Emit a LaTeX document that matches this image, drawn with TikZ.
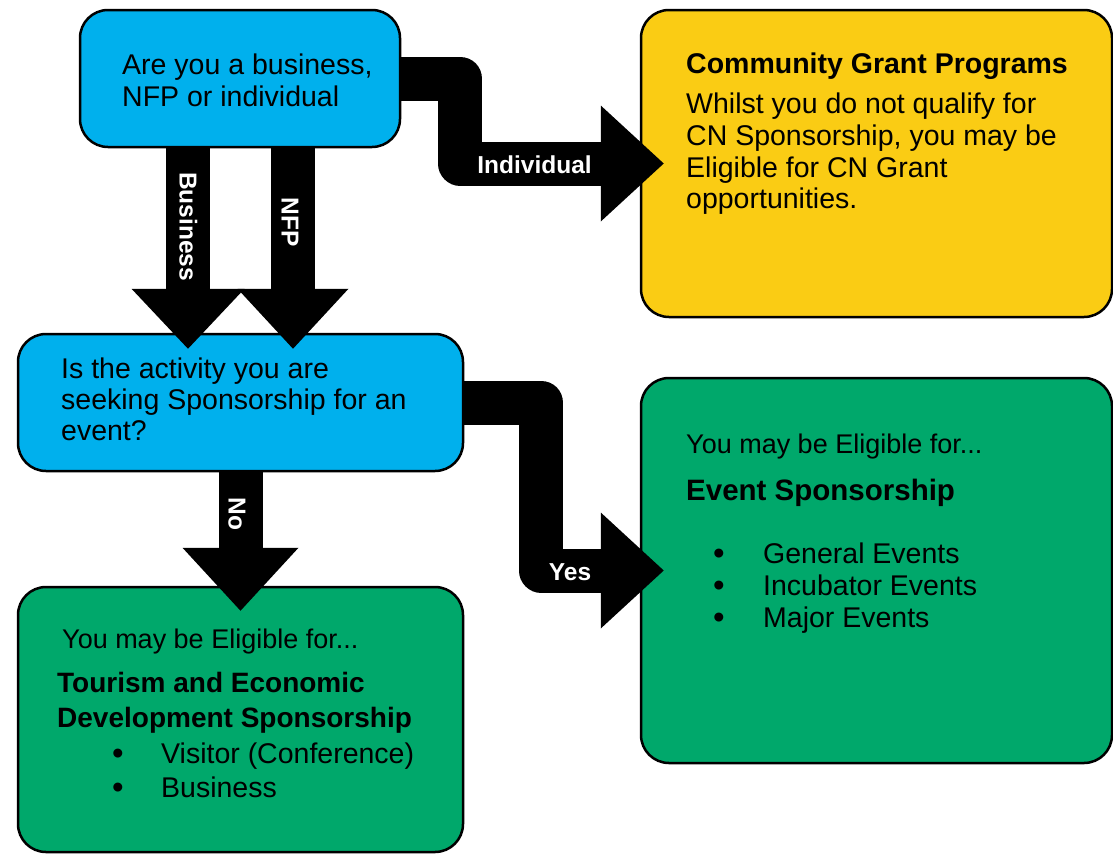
\documentclass[tikz,border=0pt]{standalone}
\usepackage{fontspec}
\setmainfont{Liberation Sans}
\usetikzlibrary{arrows.meta,calc}
\definecolor{qblue}{RGB}{0,176,237}
\definecolor{cgyellow}{RGB}{250,204,20}
\definecolor{okgreen}{RGB}{0,168,107}
\newcommand{\bul}[1]{\makebox[#1][l]{\raisebox{-1pt}{\fontsize{33}{32}\selectfont•}}}
\begin{document}
\begin{tikzpicture}[x=1pt,y=-1pt,
  box/.style={draw=black,line width=2.5pt,rounded corners=28pt,inner sep=0pt},
  txt/.style={anchor=base west,inner sep=0pt,font=\fontsize{28.5}{32}\selectfont},
  btxt/.style={txt,font=\fontsize{28.5}{32}\selectfont\bfseries},
  small/.style={txt,font=\fontsize{27}{32}\selectfont},
  conn/.style={draw=black,line width=44pt,line join=round,
    -{Triangle[width=116pt,length=63pt,line width=0pt]}},
  lbl/.style={text=white,inner sep=0pt,font=\fontsize{24.5}{28}\selectfont\bfseries}]
\useasboundingbox (0,0) rectangle (1113,854);
% boxes
\node[box,fill=qblue,minimum width=320pt,minimum height=137pt] (q1) at (240,78.5) {};
\node[box,fill=cgyellow,minimum width=471pt,minimum height=307pt] (cg) at (876.5,163.5) {};
\node[box,fill=qblue,minimum width=445pt,minimum height=137pt] (q2) at (240.5,402.5) {};
\node[box,fill=okgreen,minimum width=471pt,minimum height=385pt] (ev) at (876.5,570.5) {};
\node[box,fill=okgreen,minimum width=445pt,minimum height=265pt] (te) at (240.5,719.5) {};
% texts
\node[txt] (q1a) at (122,74) {Are you a business,};
\node[txt] (q1b) at (122,106) {NFP or individual};
\node[btxt] (cg0) at (686,73) {Community Grant Programs};
\node[txt] (cg1) at (686,113) {Whilst you do not qualify for};
\node[txt] (cg2) at (686,145) {CN Sponsorship, you may be};
\node[txt] (cg3) at (686,177) {Eligible for CN Grant};
\node[txt] (cg4) at (686,208) {opportunities.};
\node[txt] (q2a) at (61,378) {Is the activity you are};
\node[txt] (q2b) at (61,409) {seeking Sponsorship for an};
\node[txt] (q2c) at (61,440) {event?};
\node[small] (ev0) at (686,453) {You may be Eligible for...};
\node[btxt,font=\fontsize{29.5}{32}\selectfont\bfseries] (ev1) at (686,500) {Event Sponsorship};
\node[txt] (ev2) at (713,563) {\bul{50pt}General Events};
\node[txt] (ev3) at (713,595) {\bul{50pt}Incubator Events};
\node[txt] (ev4) at (713,627) {\bul{50pt}Major Events};
\node[small] (te0) at (62,648) {You may be Eligible for...};
\node[btxt,font=\fontsize{28}{32}\selectfont\bfseries] (te1) at (57,692) {Tourism and Economic};
\node[btxt,font=\fontsize{28}{32}\selectfont\bfseries] (te2) at (57,727) {Development Sponsorship};
\node[txt] (te3) at (112,763) {\bul{49pt}Visitor (Conference)};
\node[txt] (te4) at (112,797) {\bul{49pt}Business};
% connectors
\coordinate (bs) at ($(q1.south)+(-52,0)$);
\coordinate (ns) at ($(q1.south)+(53,0)$);
\draw[conn,-{Triangle[width=113pt,length=60pt,line width=0pt]}] (bs) -- ($(bs |- q2.north)+(0,16)$);
\draw[conn,-{Triangle[width=111pt,length=60pt,line width=0pt]}] (ns) -- ($(ns |- q2.north)+(0,16)$);
\draw[conn] (q1.east) -- ++(59,0) |- ($(cg.west)+(24,0)$);
\draw[conn] (q2.south) -- ($(te.north)+(0,25)$);
\draw[conn] (q2.east) -- ++(77,0) |- ($(ev.west)+(24,0)$);
% connector labels
\node[lbl,rotate=-90] (lbus) at (188.5,226.5) {Business};
\node[lbl,rotate=-90] (lnfp) at (290,222) {NFP};
\node[lbl] (lind) at (534.5,164.5) {Individual};
\node[lbl,rotate=-90] (lno) at (237,514) {No};
\node[lbl] (lyes) at (570,572.5) {Yes};
\end{tikzpicture}
\end{document}
